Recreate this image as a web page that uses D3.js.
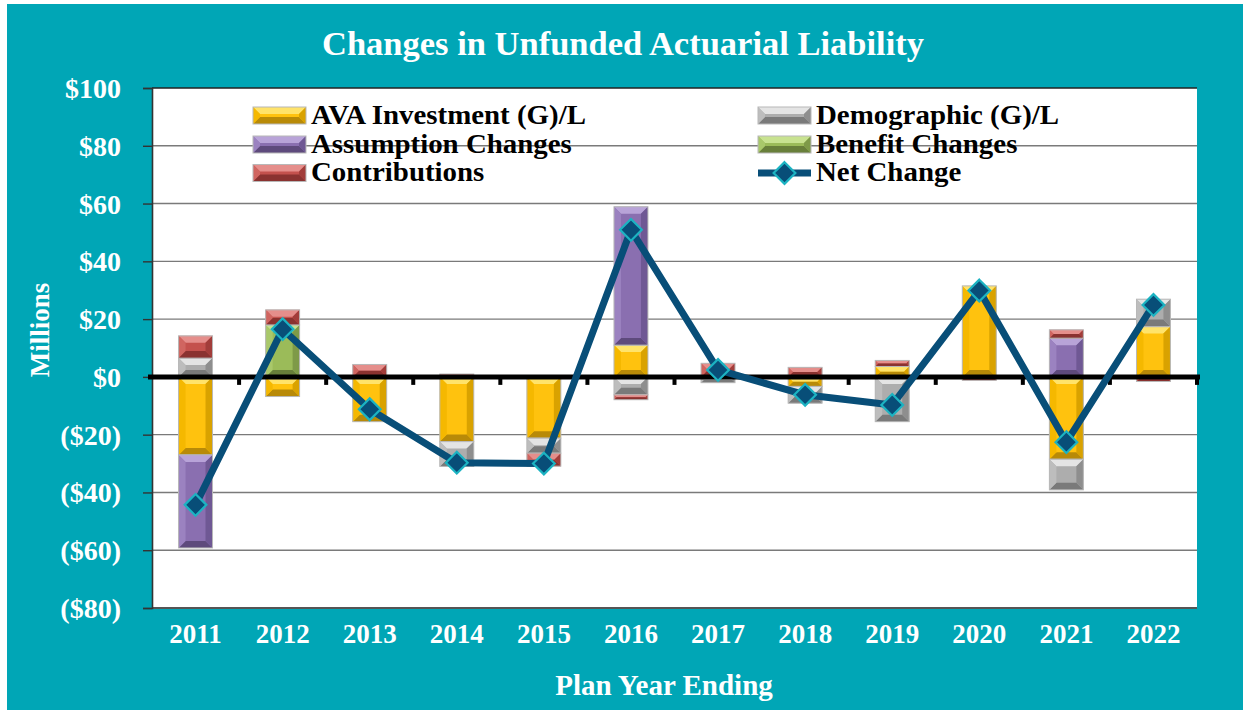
<!DOCTYPE html>
<html>
<head>
<meta charset="utf-8">
<script src="https://cdn.jsdelivr.net/npm/d3@7"></script>
<style>
  html, body { margin: 0; padding: 0; background: #fff; }
  svg { display: block; }
  text { font-family: "Liberation Serif", "Times New Roman", serif; font-weight: bold; }
</style>
</head>
<body>
<div id="chart"></div>
<script>
// chart values (millions)
const years = ["2011","2012","2013","2014","2015","2016","2017","2018","2019","2020","2021","2022"];
const avaInvestment = [-27.0, -6.8, -15.5, -22.4, -21.2, 11.0, 0, -3.3, 3.6, 31.5, -28.5, 17.4];
const demographic   = [6.5, 0, 0, -8.6, -5.2, -6.2, -2.0, -5.8, -15.5, 0, -10.6, 9.5];
const assumption    = [-32.2, 0, 0, 0, 0, 47.9, 0, 0, 0, 0, 13.4, 0];
const benefit       = [0, 18.0, 0, 0, 0, 0, 0, 0, 0, 0, 0, 0];
const contributions = [7.7, 5.2, 4.3, 1.0, -4.5, -1.7, 4.7, 3.3, 2.1, -1.2, 2.9, -1.6];
const netChange     = [-44.3, 16.5, -11.2, -29.7, -30.0, 50.9, 2.4, -6.2, -9.7, 29.9, -22.6, 24.9];
const yTicks = [100, 80, 60, 40, 20, 0, -20, -40, -60, -80];

const seriesKeys = ["ava","demo","assump","benefit","contrib"];
const seriesNames = {
  ava: "AVA Investment (G)/L", demo: "Demographic (G)/L", assump: "Assumption Changes",
  benefit: "Benefit Changes", contrib: "Contributions"
};
// base / light / side / dark shades for the bevelled look
const shades = {
  ava:     {base:"#FFC20E", light:"#FFE36A", left:"#F5B800", right:"#D9A200", dark:"#B88A08"},
  demo:    {base:"#ADADAD", light:"#E4E4E4", left:"#BDBDBD", right:"#8E8E8E", dark:"#7A7A7A"},
  assump:  {base:"#8A6FB0", light:"#B8A3D8", left:"#9B82C0", right:"#6F5894", dark:"#5E4A7C"},
  benefit: {base:"#9BBB59", light:"#C8E290", left:"#A9C86A", right:"#7E9A48", dark:"#687F3A"},
  contrib: {base:"#C4514D", light:"#E58E8B", left:"#D06560", right:"#A23D3A", dark:"#8A3230"}
};
const netColor = "#084E78", markerStroke = "#1CB3C2";

const W = 1243, H = 710;
const plot = {left: 152, right: 1197, top: 88, bottom: 608};

const rows = years.map((y, i) => ({
  year: y, ava: avaInvestment[i], demo: demographic[i], assump: assumption[i],
  benefit: benefit[i], contrib: contributions[i]
}));

const svg = d3.select("#chart").append("svg").attr("width", W).attr("height", H);

// teal background
svg.append("rect").attr("x", 7).attr("y", 4).attr("width", W - 7).attr("height", H - 4).attr("fill", "#00A6B6");

const x = d3.scaleBand().domain(years).range([plot.left, plot.right]).padding(0);
const y = d3.scaleLinear().domain([-80, 100]).range([plot.bottom, plot.top]);
const barW = x.bandwidth() * 0.39;

// plot area
svg.append("rect").attr("x", plot.left).attr("y", plot.top)
  .attr("width", plot.right - plot.left).attr("height", plot.bottom - plot.top).attr("fill", "#fff");

// gridlines
svg.append("g").selectAll("line").data(yTicks.filter(d => d !== 0 && d !== -80 && d !== 100))
  .enter().append("line")
  .attr("x1", plot.left).attr("x2", plot.right)
  .attr("y1", d => y(d)).attr("y2", d => y(d))
  .attr("stroke", "#7a7a7a").attr("stroke-width", 1.4);
svg.append("line").attr("x1", plot.left).attr("x2", plot.right)
  .attr("y1", y(100)).attr("y2", y(100)).attr("stroke", "#222").attr("stroke-width", 1.6);
svg.append("line").attr("x1", plot.left).attr("x2", plot.right)
  .attr("y1", y(-80)).attr("y2", y(-80)).attr("stroke", "#555").attr("stroke-width", 2);

// left axis
const yAxis = svg.append("g").attr("transform", `translate(${plot.left},0)`)
  .call(d3.axisLeft(y).tickValues(yTicks).tickSize(9).tickPadding(22)
    .tickFormat(d => d < 0 ? `($${-d})` : `$${d}`));
yAxis.select(".domain").attr("stroke", "#333").attr("stroke-width", 1.6);
yAxis.selectAll(".tick line").attr("stroke", "#333").attr("stroke-width", 1.4);
yAxis.selectAll(".tick text").attr("fill", "#fff").attr("font-size", 28)
  .attr("font-family", "Liberation Serif, Times New Roman, serif").attr("font-weight", "bold")
  .attr("dy", "0.34em");

// stacked bars
const stack = d3.stack().keys(seriesKeys).offset(d3.stackOffsetDiverging);
const layers = stack(rows);

function bevel(g, x0, y0, w, h, c) {
  const b = Math.min(7, h / 2, w / 2);
  g.append("rect").attr("x", x0).attr("y", y0).attr("width", w).attr("height", h).attr("fill", c.base);
  const poly = (pts, fill) => g.append("polygon").attr("points", pts.map(p => p.join(",")).join(" ")).attr("fill", fill);
  poly([[x0, y0],[x0 + w, y0],[x0 + w - b, y0 + b],[x0 + b, y0 + b]], c.light);
  poly([[x0, y0 + h],[x0 + w, y0 + h],[x0 + w - b, y0 + h - b],[x0 + b, y0 + h - b]], c.dark);
  poly([[x0, y0],[x0 + b, y0 + b],[x0 + b, y0 + h - b],[x0, y0 + h]], c.left);
  poly([[x0 + w, y0],[x0 + w - b, y0 + b],[x0 + w - b, y0 + h - b],[x0 + w, y0 + h]], c.right);
  g.append("rect").attr("x", x0).attr("y", y0).attr("width", w).attr("height", h)
    .attr("fill", "none").attr("stroke", "#b8b8b8").attr("stroke-width", 1);
}

const barsG = svg.append("g");
layers.forEach(layer => {
  layer.forEach(seg => {
    const top = y(Math.max(seg[0], seg[1])), bot = y(Math.min(seg[0], seg[1]));
    const h = bot - top;
    if (h < 0.5) return;
    bevel(barsG, x(seg.data.year) + (x.bandwidth() - barW) / 2, top, barW, h, shades[layer.key]);
  });
});

// zero line with category ticks
svg.append("line").attr("x1", plot.left - 4).attr("x2", plot.right + 3)
  .attr("y1", y(0)).attr("y2", y(0)).attr("stroke", "#000").attr("stroke-width", 5);
svg.append("g").selectAll("line").data(years.slice(1).concat(["end"]))
  .enter().append("line")
  .attr("x1", (d, i) => plot.left + x.bandwidth() * (i + 1))
  .attr("x2", (d, i) => plot.left + x.bandwidth() * (i + 1))
  .attr("y1", y(0)).attr("y2", y(0) + 8)
  .attr("stroke", "#000").attr("stroke-width", 4);

// net change line
const cx = d => x(d.year) + x.bandwidth() / 2;
const netData = years.map((yr, i) => ({year: yr, v: netChange[i]}));
svg.append("path").datum(netData)
  .attr("fill", "none").attr("stroke", netColor).attr("stroke-width", 7).attr("stroke-linejoin", "round")
  .attr("d", d3.line().x(cx).y(d => y(d.v)));
const diamond = d3.symbol().type(d3.symbolDiamond2).size(300);
svg.append("g").selectAll("path").data(netData).enter().append("path")
  .attr("d", diamond)
  .attr("transform", d => `translate(${cx(d)},${y(d.v)})`)
  .attr("fill", netColor).attr("stroke", markerStroke).attr("stroke-width", 2.2);

// x labels
svg.append("g").selectAll("text").data(years).enter().append("text")
  .attr("x", d => x(d) + x.bandwidth() / 2).attr("y", 643)
  .attr("text-anchor", "middle").attr("fill", "#fff").attr("font-size", 27).text(d => d);

// titles
svg.append("text").attr("x", 623).attr("y", 55).attr("text-anchor", "middle")
  .attr("fill", "#fff").attr("font-size", 34.5).text("Changes in Unfunded Actuarial Liability");
svg.append("text").attr("x", 664).attr("y", 695).attr("text-anchor", "middle")
  .attr("fill", "#fff").attr("font-size", 29).text("Plan Year Ending");
svg.append("text").attr("transform", "translate(49,330) rotate(-90)").attr("text-anchor", "middle")
  .attr("fill", "#fff").attr("font-size", 27).text("Millions");

// legend
const legendItems = [
  {key: "ava", col: 0, row: 0}, {key: "demo", col: 1, row: 0},
  {key: "assump", col: 0, row: 1}, {key: "benefit", col: 1, row: 1},
  {key: "contrib", col: 0, row: 2}, {key: "net", col: 1, row: 2}
];
const legCols = [253, 758], legRowY = [115.5, 144.5, 173];
const leg = svg.append("g");
legendItems.forEach(it => {
  const lx = legCols[it.col], ly = legRowY[it.row];
  if (it.key === "net") {
    leg.append("line").attr("x1", lx).attr("x2", lx + 53).attr("y1", ly).attr("y2", ly)
      .attr("stroke", netColor).attr("stroke-width", 7);
    leg.append("path").attr("d", diamond).attr("transform", `translate(${lx + 26.5},${ly})`)
      .attr("fill", netColor).attr("stroke", markerStroke).attr("stroke-width", 2.2);
  } else {
    bevel(leg, lx, ly - 8.5, 53, 17, shades[it.key]);
  }
  leg.append("text").attr("transform", `translate(${lx + 58},${ly + 8}) scale(1.07,1)`)
    .attr("fill", "#000").attr("font-size", 27)
    .text(it.key === "net" ? "Net Change" : seriesNames[it.key]);
});
</script>
</body>
</html>
